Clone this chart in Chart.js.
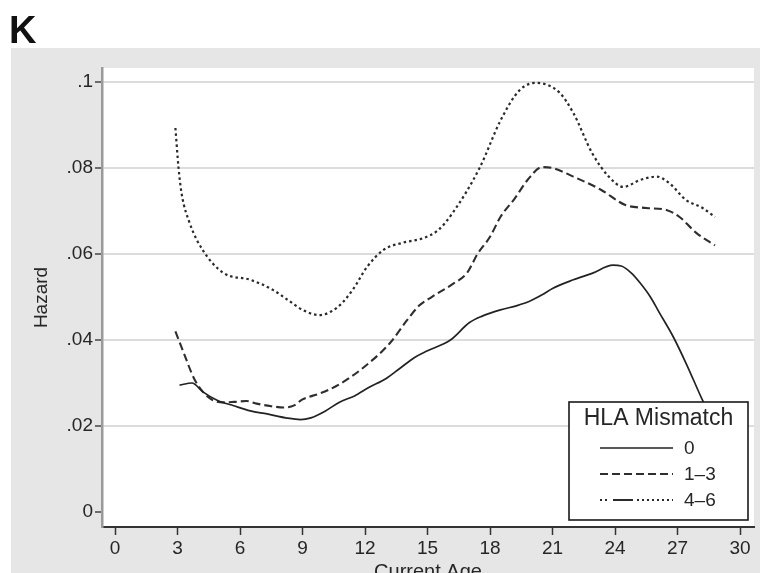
<!DOCTYPE html>
<html>
<head>
<meta charset="utf-8">
<script src="https://cdn.jsdelivr.net/npm/chart.js@4/dist/chart.umd.min.js"></script>
<style>
  html, body { margin: 0; padding: 0; background: #ffffff; }
  #wrap { position: relative; width: 767px; height: 573px; }
  canvas { display: block; }
</style>
</head>
<body>
<div id="wrap"><canvas id="c" width="767" height="573"></canvas></div>
<script>
// Axis ticks
const xTicks = [0, 3, 6, 9, 12, 15, 18, 21, 24, 27, 30];
const yTicks = [0, 0.02, 0.04, 0.06, 0.08, 0.1];
const yTickLabels = ['0', '.02', '.04', '.06', '.08', '.1'];

// Series names (number of HLA mismatches)
const seriesNames = ['0', '1–3', '4–6'];

// Smoothed hazard by current age, 0 mismatches
const age0 = [3.1, 3.7, 4.2, 4.9, 5.7, 6.5, 7.3, 8.2, 8.9, 9.4, 10.1, 10.8, 11.5, 12.2, 13.0, 13.7, 14.4, 15.0, 16.1, 17.0, 17.6, 18.5, 19.3, 19.9, 20.5, 21.0, 22.0, 22.9, 23.9, 24.3, 24.8, 25.2, 25.7, 26.1, 26.8, 27.4, 28.2, 28.8];
const hazard0 = [0.0295, 0.0300, 0.0280, 0.0260, 0.0247, 0.0235, 0.0228, 0.0219, 0.0215, 0.0219, 0.0235, 0.0256, 0.0270, 0.0290, 0.0310, 0.0335, 0.0360, 0.0375, 0.0400, 0.0440, 0.0455, 0.0470, 0.0480, 0.0490, 0.0505, 0.0520, 0.0540, 0.0555, 0.0574, 0.0572, 0.0555, 0.0533, 0.0500, 0.0466, 0.0407, 0.0347, 0.0260, 0.0200];

// 1–3 mismatches
const age13 = [2.9, 3.3, 3.8, 4.3, 4.7, 5.2, 5.7, 6.3, 6.8, 7.5, 8.1, 8.6, 9.0, 9.8, 10.7, 11.9, 13.2, 14.0, 14.6, 15.2, 16.2, 16.9, 17.4, 18.0, 18.5, 19.2, 19.8, 20.5, 21.0, 22.0, 23.3, 24.5, 25.5, 26.5, 27.1, 27.9, 28.8];
const hazard13 = [0.0420, 0.0370, 0.0310, 0.0275, 0.0260, 0.0255, 0.0256, 0.0258, 0.0252, 0.0246, 0.0243, 0.0248, 0.0262, 0.0275, 0.0295, 0.0335, 0.0393, 0.0445, 0.0480, 0.0500, 0.0530, 0.0556, 0.0600, 0.0640, 0.0686, 0.0730, 0.0772, 0.0802, 0.0800, 0.0780, 0.0750, 0.0714, 0.0707, 0.0702, 0.0686, 0.0649, 0.0620];

// 4–6 mismatches
const age46 = [2.9, 3.05, 3.2, 3.6, 4.2, 5.2, 6.5, 7.6, 8.3, 9.0, 9.8, 10.7, 11.4, 12.1, 12.9, 13.8, 14.8, 15.5, 16.2, 17.5, 18.5, 19.4, 20.2, 21.3, 22.0, 22.9, 23.7, 24.4, 25.2, 26.0, 26.6, 27.4, 28.2, 28.8];
const hazard46 = [0.0893, 0.0800, 0.0740, 0.0670, 0.0610, 0.0556, 0.0540, 0.0516, 0.0493, 0.0470, 0.0458, 0.0477, 0.0516, 0.0570, 0.0610, 0.0626, 0.0637, 0.0655, 0.0695, 0.0800, 0.0910, 0.0980, 0.0998, 0.0977, 0.0928, 0.0835, 0.0780, 0.0756, 0.0772, 0.0780, 0.0765, 0.0726, 0.0707, 0.0686];

const FONT = '"Liberation Sans", Arial, Helvetica, sans-serif';
const INK = '#262626';

function pairs(xs, ys) {
  return xs.map((x, i) => ({ x: x, y: ys[i] }));
}

// Paint the grey graph region and the white plot region underneath everything
const backdrop = {
  id: 'backdrop',
  beforeDraw(chart) {
    const { ctx, chartArea: a } = chart;
    ctx.save();
    ctx.fillStyle = '#ffffff';
    ctx.fillRect(0, 0, chart.width, chart.height);
    ctx.fillStyle = '#e6e6e6';
    ctx.fillRect(11, 48, 749, chart.height - 48);
    ctx.fillStyle = '#ffffff';
    ctx.fillRect(a.left, a.top, a.right - a.left, a.bottom - a.top);
    // panel letter
    ctx.fillStyle = '#111111';
    ctx.font = 'bold 38px ' + FONT;
    ctx.textBaseline = 'alphabetic';
    ctx.fillText('K', 9, 43);
    ctx.restore();
  }
};

// Boxed legend drawn inside the plot, over the curves
const boxedLegend = {
  id: 'boxedLegend',
  afterDraw(chart) {
    const { ctx } = chart;
    const x0 = 569, y0 = 402, w = 179, h = 118;
    ctx.save();
    ctx.fillStyle = '#ffffff';
    ctx.fillRect(x0, y0, w, h);
    ctx.strokeStyle = '#1a1a1a';
    ctx.lineWidth = 1.6;
    ctx.strokeRect(x0, y0, w, h);

    ctx.fillStyle = INK;
    ctx.font = '23px ' + FONT;
    ctx.textAlign = 'center';
    ctx.textBaseline = 'middle';
    ctx.fillText('HLA Mismatch', x0 + w / 2, y0 + 17);

    const rows = [448, 474, 500];
    chart.data.datasets.forEach((ds, i) => {
      const y = rows[i];
      ctx.strokeStyle = ds.borderColor;
      ctx.lineWidth = ds.borderWidth;
      ctx.setLineDash(ds.legendDash);
      ctx.beginPath();
      ctx.moveTo(600, y);
      ctx.lineTo(673, y);
      ctx.stroke();
      ctx.setLineDash([]);
      ctx.fillStyle = INK;
      ctx.font = '19px ' + FONT;
      ctx.textAlign = 'left';
      ctx.fillText(ds.label, 684, y + 1);
    });
    ctx.restore();
  }
};

new Chart(document.getElementById('c'), {
  type: 'line',
  data: {
    datasets: [
      {
        label: seriesNames[0],
        data: pairs(age0, hazard0),
        borderColor: '#222222',
        borderWidth: 1.7,
        borderDash: [],
        legendDash: []
      },
      {
        label: seriesNames[1],
        data: pairs(age13, hazard13),
        borderColor: '#2e2e2e',
        borderWidth: 2.1,
        borderDash: [8, 4],
        legendDash: [8, 4]
      },
      {
        label: seriesNames[2],
        data: pairs(age46, hazard46),
        borderColor: '#2a2a2a',
        borderWidth: 2.2,
        borderDash: [2.5, 3],
        legendDash: [2, 3, 2, 6, 20, 4, 2, 3, 2, 3, 2, 3, 2, 3, 2, 3, 2, 3, 2, 3, 2, 3, 2, 3, 2, 3]
      }
    ]
  },
  options: {
    responsive: false,
    devicePixelRatio: 1,
    animation: false,
    layout: { padding: { left: 0, top: 68, right: 13, bottom: 0 } },
    elements: {
      point: { radius: 0, hoverRadius: 0 },
      line: { tension: 0.4, cubicInterpolationMode: 'monotone', fill: false }
    },
    plugins: {
      legend: { display: false },
      tooltip: { enabled: false },
      title: { display: false }
    },
    scales: {
      x: {
        type: 'linear',
        min: -0.624,
        max: 30.672,
        afterBuildTicks: s => { s.ticks = xTicks.map(v => ({ value: v })); },
        afterFit: s => { s.height = 46; },
        ticks: {
          autoSkip: false,
          maxRotation: 0,
          padding: 2,
          color: INK,
          font: { family: FONT, size: 19 },
          callback: v => String(v)
        },
        grid: {
          drawOnChartArea: false,
          drawTicks: true,
          tickLength: 8,
          tickColor: '#333333',
          tickWidth: 1.5
        },
        border: { display: true, color: '#333333', width: 2 },
        title: {
          display: true,
          text: 'Current Age',
          color: INK,
          font: { family: FONT, size: 20 },
          padding: { top: 0, bottom: -11 }
        }
      },
      y: {
        type: 'linear',
        min: -0.00349,
        max: 0.10326,
        afterBuildTicks: s => { s.ticks = yTicks.map(v => ({ value: v })); },
        afterFit: s => { s.width = 102; },
        ticks: {
          padding: 2,
          color: INK,
          font: { family: FONT, size: 19 },
          callback: v => yTickLabels[yTicks.indexOf(v)]
        },
        grid: {
          color: c => (c.tick && c.tick.value === 0) ? 'rgba(0,0,0,0)' : '#dcdcdc',
          lineWidth: 2,
          drawTicks: true,
          tickLength: 7,
          tickColor: '#444444',
          tickWidth: 1.5
        },
        border: { display: true, color: '#9a9a9a', width: 2.5 },
        title: {
          display: true,
          text: 'Hazard',
          color: INK,
          font: { family: FONT, size: 19 },
          align: 'center',
          padding: { top: 30, bottom: 0 }
        }
      }
    }
  },
  plugins: [backdrop, boxedLegend]
});
</script>
</body>
</html>
